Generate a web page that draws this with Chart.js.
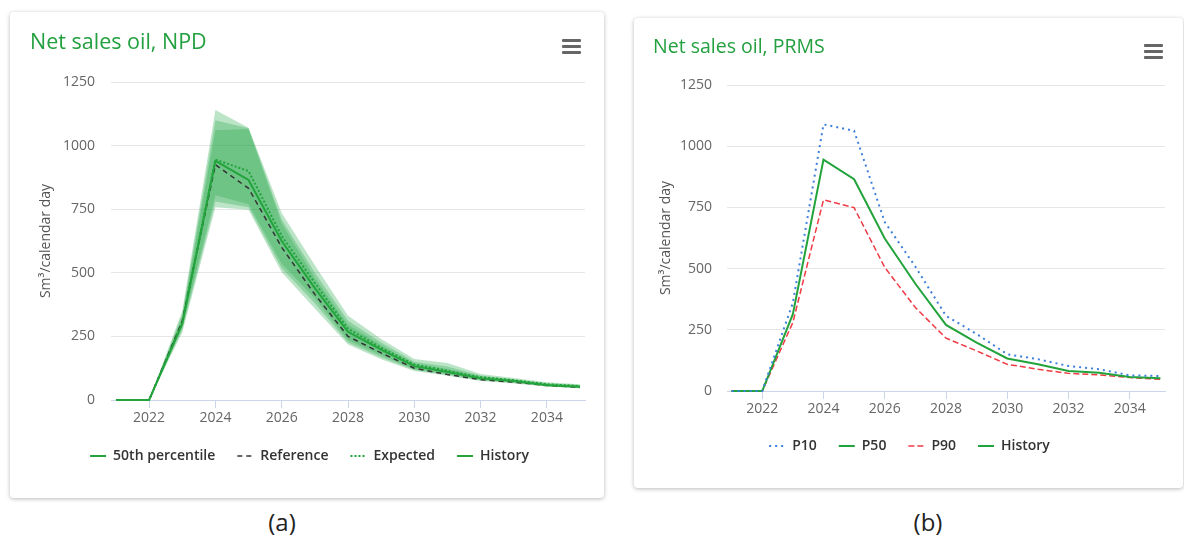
<!DOCTYPE html>
<html>
<head>
<meta charset="utf-8">
<script src="https://cdn.jsdelivr.net/npm/chart.js@4.4.1/dist/chart.umd.min.js"></script>
<style>
  body { margin: 0; background: #fff; font-family: 'Open Sans', sans-serif; }
  .card { position: absolute; background: #fff; border-radius: 4px; box-shadow: 0 1px 4px rgba(0,0,0,0.28); }
  .card canvas { position: absolute; left: 0; top: 0; }
  .title { position: absolute; color: #23a03f; white-space: nowrap; }
  .menu { position: absolute; width: 19px; }
  .menu div { height: 3px; background: #666; margin-bottom: 3px; border-radius: 1px; }
  .caption { position: absolute; font-size: 24px; color: #222; transform: translateX(-50%); }
</style>
</head>
<body>

<div class="card" id="cardA" style="left:10px; top:12px; width:594px; height:486px;">
  <canvas id="chartA" width="594" height="486"></canvas>
  <div class="title" style="left:20px; top:14px; font-size:21.5px;">Net sales oil, NPD</div>
  <div class="menu" style="left:552px; top:27px;"><div></div><div></div><div></div></div>
</div>

<div class="card" id="cardB" style="left:634px; top:18px; width:549px; height:470px;">
  <canvas id="chartB" width="549" height="470"></canvas>
  <div class="title" style="left:19px; top:14px; font-size:19.5px;">Net sales oil, PRMS</div>
  <div class="menu" style="left:510px; top:26px;"><div></div><div></div><div></div></div>
</div>

<div class="caption" style="left:282px; top:505px;">(a)</div>
<div class="caption" style="left:928px; top:505px;">(b)</div>

<script>
// years on the x axis
const years = [2021, 2022, 2023, 2024, 2025, 2026, 2027, 2028, 2029, 2030, 2031, 2032, 2033, 2034, 2035];
const xTicks = [2022, 2024, 2026, 2028, 2030, 2032, 2034];
const yTicks = [0, 250, 500, 750, 1000, 1250];

// (a) NPD
const npdP50      = [0, 0, 300, 940, 865, 625, 440, 268, 198, 133, 110, 85, 75, 58, 52];
const npdRef      = [0, 0, 310, 925, 832, 600, 415, 250, 185, 125, 100, 80, 70, 57, 50];
const npdExpected = [0, 0, 305, 945, 900, 645, 460, 280, 205, 140, 115, 90, 78, 62, 55];
const history     = [0, 0, null, null, null, null, null, null, null, null, null, null, null, null, null];
// fan bands (outer -> inner)
const bandOuterHi = [0, 0, 350, 1140, 1070, 735, 530, 331, 240, 161, 145, 102, 86, 70, 62];
const bandOuterLo = [0, 0, 265, 758, 748, 502, 360, 218, 160, 114, 95, 75, 65, 53, 45];
const bandMidHi   = [0, 0, 338, 1100, 1068, 710, 500, 312, 226, 150, 132, 96, 82, 66, 59];
const bandMidLo   = [0, 0, 276, 780, 758, 518, 380, 226, 168, 118, 99, 78, 68, 55, 47];
const bandInnerHi = [0, 0, 326, 1060, 1065, 694, 480, 296, 215, 143, 122, 92, 80, 64, 57];
const bandInnerLo = [0, 0, 288, 805, 769, 536, 400, 236, 177, 122, 102, 80, 70, 56, 49];

// (b) PRMS
const prmsP10 = [0, 0, 360, 1089, 1063, 690, 508, 307, 233, 150, 130, 102, 89, 64, 61];
const prmsP50 = [0, 0, 314, 945, 865, 623, 438, 270, 198, 133, 109, 82, 75, 57, 52];
const prmsP90 = [0, 0, 280, 781, 749, 505, 341, 216, 164, 109, 89, 72, 66, 55, 48];

const green = '#22a33b';
const bandColor = 'rgba(34,165,70,0.30)';

function pts(vals) {
    return years.map((x, i) => ({ x: x, y: vals[i] }));
}

function line(label, vals, color, dash, width) {
    return {
        label: label,
        data: pts(vals),
        borderColor: color,
        backgroundColor: color,
        borderWidth: width || 2,
        borderDash: dash || [],
        pointRadius: 0,
        fill: false,
        tension: 0,
        clip: false // keep the full stroke on the zero line
    };
}

function band(vals, fill) {
    return {
        label: '',
        data: pts(vals),
        borderWidth: 0,
        borderColor: 'transparent',
        backgroundColor: bandColor,
        pointRadius: 0,
        fill: fill
    };
}

function makeChart(id, datasets, layout) {
    new Chart(document.getElementById(id), {
        type: 'line',
        data: { datasets: datasets },
        options: {
            responsive: false,
            animation: false,
            devicePixelRatio: 1,
            layout: { padding: layout.padding },
            plugins: {
                tooltip: { enabled: false },
                legend: {
                    position: 'bottom',
                    labels: {
                        usePointStyle: true,
                        pointStyleWidth: 16,
                        boxHeight: 8,
                        padding: 22,
                        color: '#333',
                        font: { family: 'Open Sans', size: 14, weight: '600' },
                        filter: item => item.text !== '',
                        generateLabels: chart => {
                            const items = Chart.defaults.plugins.legend.labels.generateLabels(chart);
                            items.forEach(it => {
                                const ds = chart.data.datasets[it.datasetIndex];
                                it.pointStyle = 'line';
                                it.lineWidth = ds.borderWidth;
                                it.lineDash = ds.borderDash;
                            });
                            return items;
                        }
                    }
                }
            },
            scales: {
                x: {
                    type: 'linear',
                    min: 2020.85,
                    max: 2035.15,
                    afterBuildTicks: s => { s.ticks = xTicks.map(v => ({ value: v })); },
                    afterFit: s => { s.height = layout.xHeight; },
                    ticks: {
                        color: '#666',
                        padding: 2,
                        font: { family: 'Open Sans', size: 14 },
                        callback: v => String(v)
                    },
                    grid: { drawOnChartArea: false, tickLength: 8, color: '#ccd6eb' },
                    border: { color: '#ccd6eb', width: 1 }
                },
                y: {
                    min: 0,
                    max: 1250,
                    afterBuildTicks: s => { s.ticks = yTicks.map(v => ({ value: v })); },
                    afterFit: s => { s.width = layout.yWidth; },
                    ticks: {
                        color: '#666',
                        padding: layout.yPad,
                        font: { family: 'Open Sans', size: 14 },
                        callback: v => String(v)
                    },
                    grid: { color: '#e6e6e6', drawTicks: false },
                    border: { display: false },
                    title: {
                        display: true,
                        text: 'Sm³/calendar day',
                        color: '#555',
                        font: { family: 'Open Sans', size: 14 }
                    }
                }
            }
        }
    });
}

// (a) lines first so they are drawn over the bands
makeChart('chartA', [
    line('50th percentile', npdP50, green, [], 2),
    line('Reference', npdRef, '#333', [5, 4], 1.5),
    line('Expected', npdExpected, green, [2, 2], 2),
    line('History', history, green, [], 2),
    band(bandOuterHi, false),
    band(bandOuterLo, '-1'),
    band(bandMidHi, false),
    band(bandMidLo, '-1'),
    band(bandInnerHi, false),
    band(bandInnerLo, '-1')
], { padding: { top: 70, left: 24, right: 19, bottom: 25 }, yWidth: 77, yPad: 16, xHeight: 27 });

// (b)
makeChart('chartB', [
    line('P10', prmsP10, '#3d7fdc', [2, 4], 2),
    line('P50', prmsP50, green, [], 2),
    line('P90', prmsP90, '#f03a44', [6, 3], 1.5),
    line('History', history, green, [], 2)
], { padding: { top: 67, left: 20, right: 18, bottom: 25 }, yWidth: 73, yPad: 15, xHeight: 26 });
</script>
</body>
</html>
